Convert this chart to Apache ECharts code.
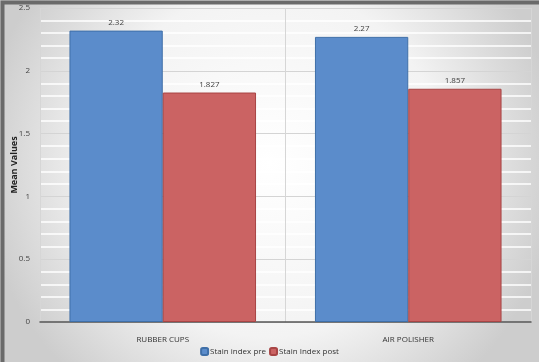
<!DOCTYPE html>
<html>
<head>
<meta charset="utf-8">
<script src="https://cdn.jsdelivr.net/npm/echarts@6/dist/echarts.min.js"></script>
<style>
  html, body { margin: 0; padding: 0; }
  #main { width: 539px; height: 362px; }
</style>
</head>
<body>
<div id="main"></div>
<script>
(function(){
    'use strict';

    // data
    var categories = ['RUBBER CUPS', 'AIR POLISHER'];
    var seriesNames = ['Stain index pre', 'Stain Index post'];
    var preValues = [2.32, 2.27];
    var postValues = [1.827, 1.857];

    var myChart = echarts.init(document.getElementById('main'));

    var labelStyle = {
        show: true,
        position: 'top',
        color: '#404040',
        fontSize: 8,
        fontFamily: 'Open Sans',
        distance: 4
    };

    var option = {
        backgroundColor: new echarts.graphic.RadialGradient(0.5, 0.45, 0.8, [
            {offset: 0, color: '#ffffff'},
            {offset: 0.6, color: '#f3f3f3'},
            {offset: 1, color: '#cdcdcd'}
        ]),
        color: ['#5b8ccb', '#cb6363'],
        textStyle: { fontFamily: 'Open Sans' },
        graphic: [{
            type: 'rect',
            left: 0, top: 0,
            shape: { width: 539, height: 362 },
            style: { fill: 'none', stroke: '#6a6a6a', lineWidth: 4 },
            silent: true
        }],
        legend: {
            bottom: 6,
            left: 'center',
            padding: 0,
            itemWidth: 7,
            itemHeight: 7,
            itemGap: 3,
            textStyle: { fontSize: 8, color: '#333', padding: [0, 0, 0, -3] },
            data: seriesNames
        },
        grid: { left: 40, right: 8, top: 8, bottom: 40, outerBoundsMode: 'none', containLabel: false },
        xAxis: {
            type: 'category',
            data: categories,
            axisLine: { lineStyle: { color: '#555', width: 1.5 } },
            axisTick: { show: false },
            axisLabel: { color: '#333', fontSize: 8, margin: 14 },
            splitLine: { show: true, lineStyle: { color: '#d6d6d6' } }
        },
        yAxis: {
            type: 'value',
            min: 0, max: 2.5, interval: 0.5,
            name: 'Mean Values',
            nameLocation: 'middle',
            nameGap: 21,
            nameMoveOverlap: false,
            nameTextStyle: { fontWeight: 'bold', fontSize: 9, color: '#222' },
            axisLine: { show: false },
            axisTick: { show: false },
            axisLabel: { color: '#444', fontSize: 8, margin: 10 },
            splitLine: { lineStyle: { color: '#d4d4d4' } },
            minorTick: { show: false, splitNumber: 5 },
            minorSplitLine: { show: true, lineStyle: { color: '#ffffff', width: 1.5 } }
        },
        series: [
            {
                name: seriesNames[0],
                type: 'bar',
                data: preValues,
                barGap: '0%',
                barCategoryGap: '24%',
                itemStyle: { borderColor: '#3f6fa8', borderWidth: 1 },
                label: labelStyle
            },
            {
                name: seriesNames[1],
                type: 'bar',
                data: postValues,
                itemStyle: { borderColor: '#a84545', borderWidth: 1 },
                label: labelStyle
            }
        ]
    };

    myChart.setOption(option);
}());
</script>
</body>
</html>
